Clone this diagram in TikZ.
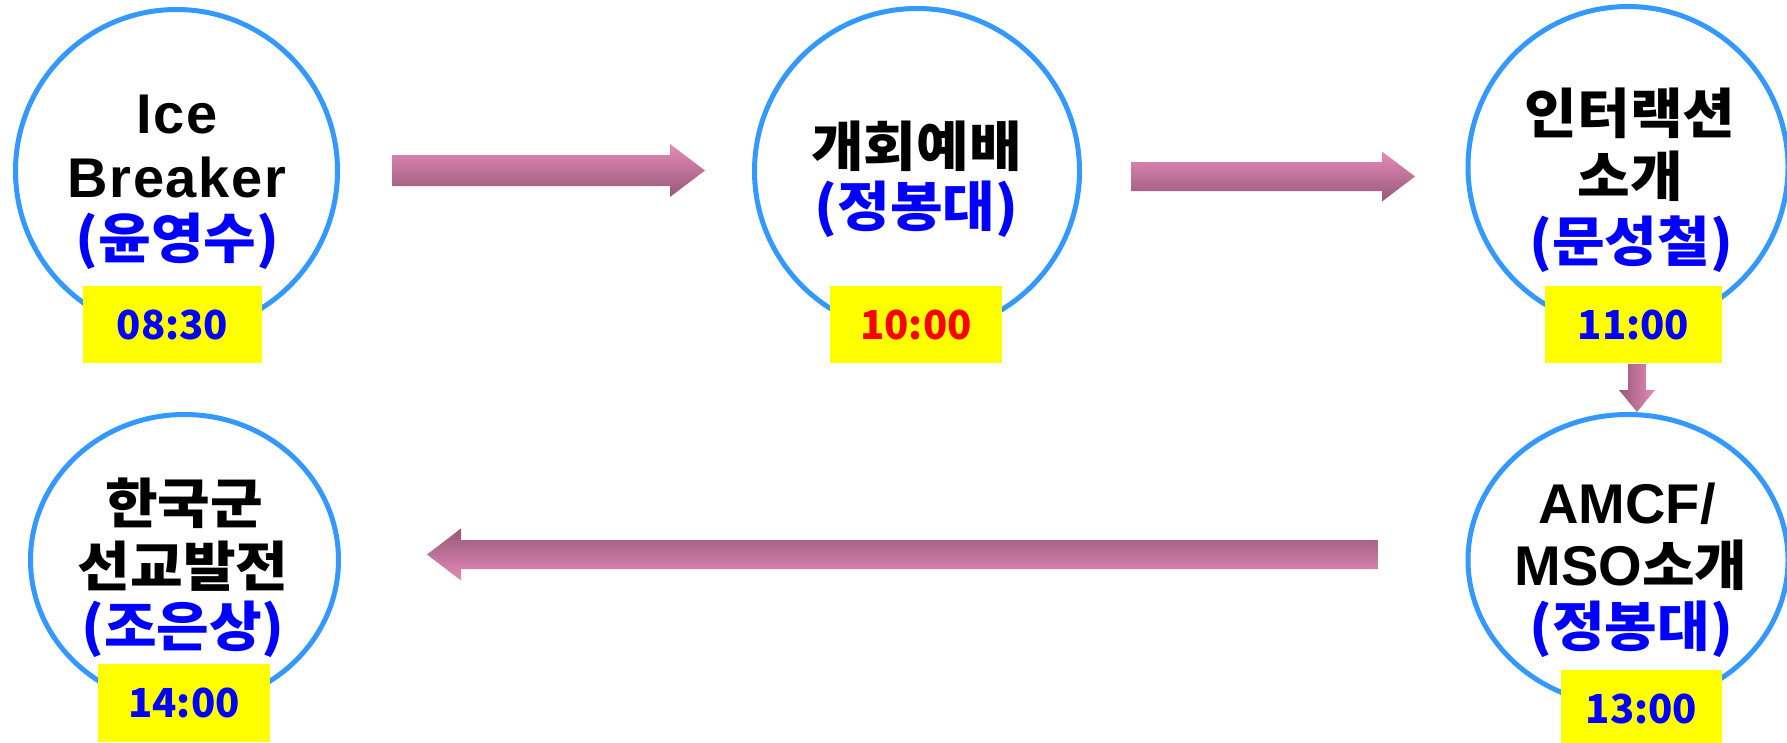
\documentclass[tikz,border=0pt]{standalone}
\usepackage{fontspec}
\setmainfont{Liberation Sans}
\newfontfamily\kr{Noto Sans CJK KR}[FakeStretch=1.06]
\newfontfamily\krt{Noto Sans CJK KR}
\usetikzlibrary{shapes.geometric,calc}
\definecolor{ringc}{RGB}{51,153,255}
\definecolor{pinkL}{RGB}{230,140,185}
\definecolor{pinkD}{RGB}{150,88,120}
\definecolor{tblue}{RGB}{0,0,255}
\definecolor{tred}{RGB}{255,0,0}
\definecolor{tyel}{RGB}{255,255,0}
\begin{document}
\begin{tikzpicture}[x=1pt,y=-1pt,
  ringnode/.style={draw=ringc, line width=5pt, ellipse, inner sep=0pt, fill=white},
  lat/.style={font=\fontsize{56}{60}\selectfont\bfseries, anchor=base, inner sep=0pt},
  kor/.style={font=\fontsize{54}{60}\kr\bfseries, anchor=base, inner sep=0pt},
  who/.style={kor, text=tblue},
  timebox/.style={fill=tyel, inner sep=0pt, font=\fontsize{40}{46}\krt\bfseries, text=tblue},
  arrowshade/.style={top color=pinkL, bottom color=pinkD},
  arrowshadeflip/.style={top color=pinkD, bottom color=pinkL},
  arrowshadev/.style={left color=pinkD, right color=pinkL}
]
\useasboundingbox (0,0) rectangle (1787,742);
\fill[white] (0,0) rectangle (1787,742);

% circles
\node[ringnode, minimum width=322pt, minimum height=323pt] (c1) at (176.5,171) {};
\node[ringnode, minimum width=325pt, minimum height=325pt] (c2) at (917,171) {};
\node[ringnode, minimum width=320pt, minimum height=321pt] (c3) at (1628,167) {};
\node[ringnode, minimum width=320pt, minimum height=291pt] (c4) at (1628,560) {};
\node[ringnode, minimum width=308pt, minimum height=291pt] (c5) at (184.5,560) {};

% texts
\node[lat] (t1a) at (177,133) {\addfontfeature{LetterSpace=3}Ice};
\node[lat] (t1b) at (177,197) {\addfontfeature{LetterSpace=3}Breaker};
\node[who] (t1c) at (177.5,258) {(윤영수)};

\node[kor] (t2a) at (916.5,166) {개회예배};
\node[who] (t2b) at (916.5,226) {(정봉대)};

\node[kor] (t3a) at (1630,133) {인터랙션};
\node[kor] (t3b) at (1630,196) {소개};
\node[who] (t3c) at (1631,261) {(문성철)};

\node[lat] (t4a) at (1627,523) {AMCF/};
\node[lat] (t4b) at (1631,585) {MSO{\fontsize{54}{60}\kr\bfseries 소개}};
\node[who] (t4c) at (1631,646) {(정봉대)};

\node[kor] (t5a) at (184,523) {한국군};
\node[kor] (t5b) at (183,586) {선교발전};
\node[who] (t5c) at (183,646) {(조은상)};

% time boxes
\node[timebox, minimum width=179pt, minimum height=77pt] (b1) at (172.5,324.5) {08:30};
\node[timebox, minimum width=172pt, minimum height=77pt, text=tred] (b2) at (916,324.5) {10:00};
\node[timebox, minimum width=177pt, minimum height=77pt] (b3) at (1633.5,324.5) {11:00};
\node[timebox, minimum width=161pt, minimum height=78pt] (b4) at (1641.5,709) {13:00};
\node[timebox, minimum width=172pt, minimum height=78pt] (b5) at (184,703) {14:00};

% arrow end points
\coordinate (a1s) at (392,170.5);
\coordinate (a1e) at (705,170.5);
\coordinate (a2s) at (1131,176.5);
\coordinate (a2e) at (1415,176.5);
\coordinate (a3s) at (1378,554.5);
\coordinate (a3e) at (427,554.5);
\coordinate (a4s) at (1637,364);
\coordinate (a4e) at (c4.north -| a4s);

% c1 -> c2
\shade[arrowshade] let \p1=(a1s), \p2=(a1e) in
  (\x1,\y1+15.5pt) -- (\x2-35pt,\y1+15.5pt) -- (\x2-35pt,\y1+26.5pt) -- (\x2,\y2)
  -- (\x2-35pt,\y1-26.5pt) -- (\x2-35pt,\y1-15.5pt) -- (\x1,\y1-15.5pt) -- cycle;
% c2 -> c3
\shade[arrowshade] let \p1=(a2s), \p2=(a2e) in
  (\x1,\y1+14.5pt) -- (\x2-33pt,\y1+14.5pt) -- (\x2-33pt,\y1+25pt) -- (\x2,\y2)
  -- (\x2-33pt,\y1-25pt) -- (\x2-33pt,\y1-14.5pt) -- (\x1,\y1-14.5pt) -- cycle;
% c4 -> c5
\shade[arrowshadeflip] let \p1=(a3s), \p2=(a3e) in
  (\x1,\y1+14.5pt) -- (\x2+34pt,\y1+14.5pt) -- (\x2+34pt,\y1+26pt) -- (\x2,\y2)
  -- (\x2+34pt,\y1-26pt) -- (\x2+34pt,\y1-14.5pt) -- (\x1,\y1-14.5pt) -- cycle;
% b3 -> c4
\shade[arrowshadev] let \p1=(a4s), \p2=(a4e) in
  (\x1-9pt,\y1) -- (\x1-9pt,\y2+22pt) -- (\x1-18pt,\y2+22pt) -- (\x2,\y2)
  -- (\x1+18pt,\y2+22pt) -- (\x1+9pt,\y2+22pt) -- (\x1+9pt,\y1) -- cycle;
\end{tikzpicture}
\end{document}
